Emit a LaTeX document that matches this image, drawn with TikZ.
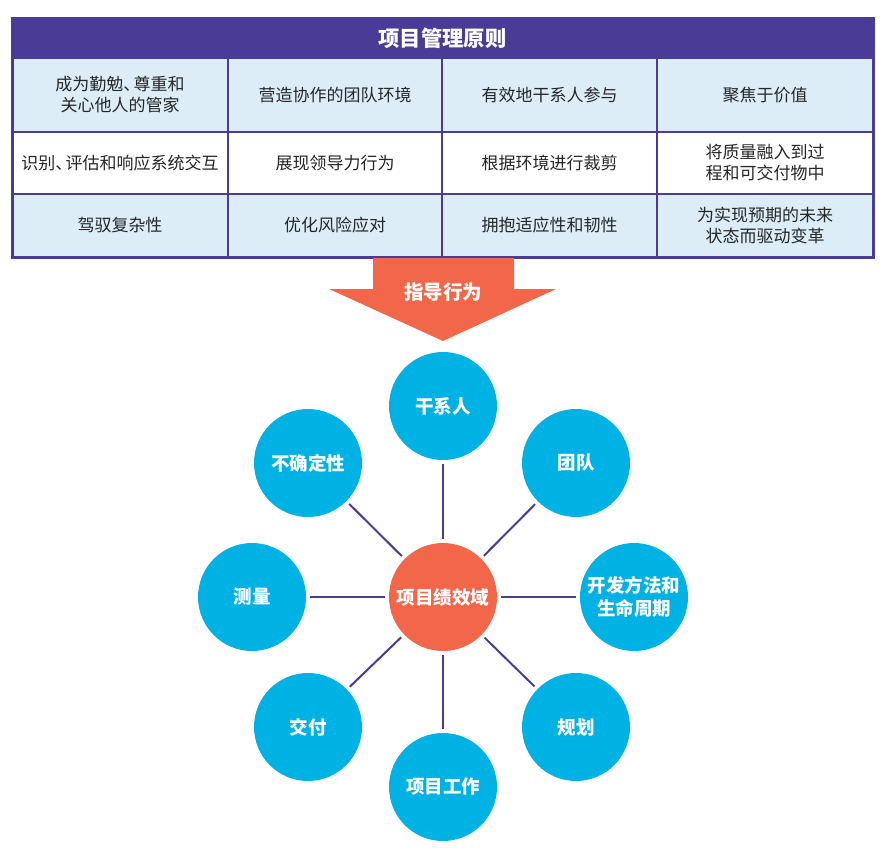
\documentclass[tikz,border=0pt]{standalone}
\usepackage{fontspec}
\newfontfamily\cjk{Noto Sans CJK SC}
\usetikzlibrary{positioning}
\definecolor{hdr}{HTML}{4A3B96}
\definecolor{lblue}{HTML}{DCEDF8}
\definecolor{cyanc}{HTML}{00B2E3}
\definecolor{orng}{HTML}{F2674A}
\definecolor{spoke}{HTML}{4B3A96}
\newcommand{\dunhao}{、\hspace{-0.4em}}
\tikzset{
  cell/.style={draw=hdr, line width=1.3pt, inner sep=0pt, outer sep=0pt, align=center, text=black!85,
     font=\cjk\fontsize{17}{21}\selectfont, anchor=north west},
  bluecell/.style={cell, fill=lblue},
  whitecell/.style={cell, fill=white},
  dom/.style={circle, fill=cyanc, minimum size=108pt, inner sep=0pt, outer sep=0pt, text=white,
     align=center, font=\cjk\bfseries\fontsize{18.5}{22.5}\selectfont},
  hub/.style={dom, fill=orng},
  spokeline/.style={draw=spoke, line width=2pt, shorten <=4pt, shorten >=4pt},
}
\begin{document}
\begin{tikzpicture}[x=1pt,y=-1pt]
\useasboundingbox (0,0) rectangle (887,854);
% header
\node[cell, fill=hdr, minimum width=861pt, minimum height=40pt, text=white,
  font=\cjk\bfseries\fontsize{21.3}{25}\selectfont] (hd) at (12,18) {项目管理原则};
% row 1
\node[bluecell, minimum width=216pt, minimum height=74pt] (a1) at (12,58) {成为勤勉\dunhao 尊重和\\关心他人的管家};
\node[bluecell, minimum width=214pt, minimum height=74pt] (a2) at (228,58) {营造协作的团队环境};
\node[bluecell, minimum width=215pt, minimum height=74pt] (a3) at (442,58) {有效地干系人参与};
\node[bluecell, minimum width=216pt, minimum height=74pt] (a4) at (657,58) {聚焦于价值};
% row 2
\node[whitecell, minimum width=216pt, minimum height=62pt] (b1) at (12,132) {识别\dunhao 评估和响应系统交互};
\node[whitecell, minimum width=214pt, minimum height=62pt] (b2) at (228,132) {展现领导力行为};
\node[whitecell, minimum width=215pt, minimum height=62pt] (b3) at (442,132) {根据环境进行裁剪};
\node[whitecell, minimum width=216pt, minimum height=62pt] (b4) at (657,132) {将质量融入到过\\程和可交付物中};
% row 3
\node[bluecell, minimum width=216pt, minimum height=63pt] (c1) at (12,194) {驾驭复杂性};
\node[bluecell, minimum width=214pt, minimum height=63pt] (c2) at (228,194) {优化风险应对};
\node[bluecell, minimum width=215pt, minimum height=63pt] (c3) at (442,194) {拥抱适应性和韧性};
\node[bluecell, minimum width=216pt, minimum height=63pt] (c4) at (657,194) {为实现预期的未来\\状态而驱动变革};
% outer border
\draw[hdr, line width=3pt] (12,18) rectangle (873,257);
% arrow
\fill[orng] (373,258) -- (514,258) -- (514,289) -- (556,289) -- (443,341) -- (329,289) -- (373,289) -- cycle;
\node[text=white, font=\cjk\bfseries\fontsize{19.5}{22}\selectfont] (guide) at (443,292) {指导行为};
% circles
\node[hub] (hub) at (443,597) {项目绩效域};
\node[dom] (d1) at (443,406) {干系人};
\node[dom] (d2) at (576,463) {团队};
\node[dom] (d3) at (634,597) {开发方法和\\生命周期};
\node[dom] (d4) at (576,727) {规划};
\node[dom] (d5) at (443,787) {项目工作};
\node[dom] (d6) at (308,727) {交付};
\node[dom] (d7) at (252,597) {测量};
\node[dom] (d8) at (308,463) {不确定性};
\foreach \d in {d1,d2,d3,d4,d5,d6,d7,d8}
  \draw[spokeline] (hub) -- (\d);
\end{tikzpicture}
\end{document}
